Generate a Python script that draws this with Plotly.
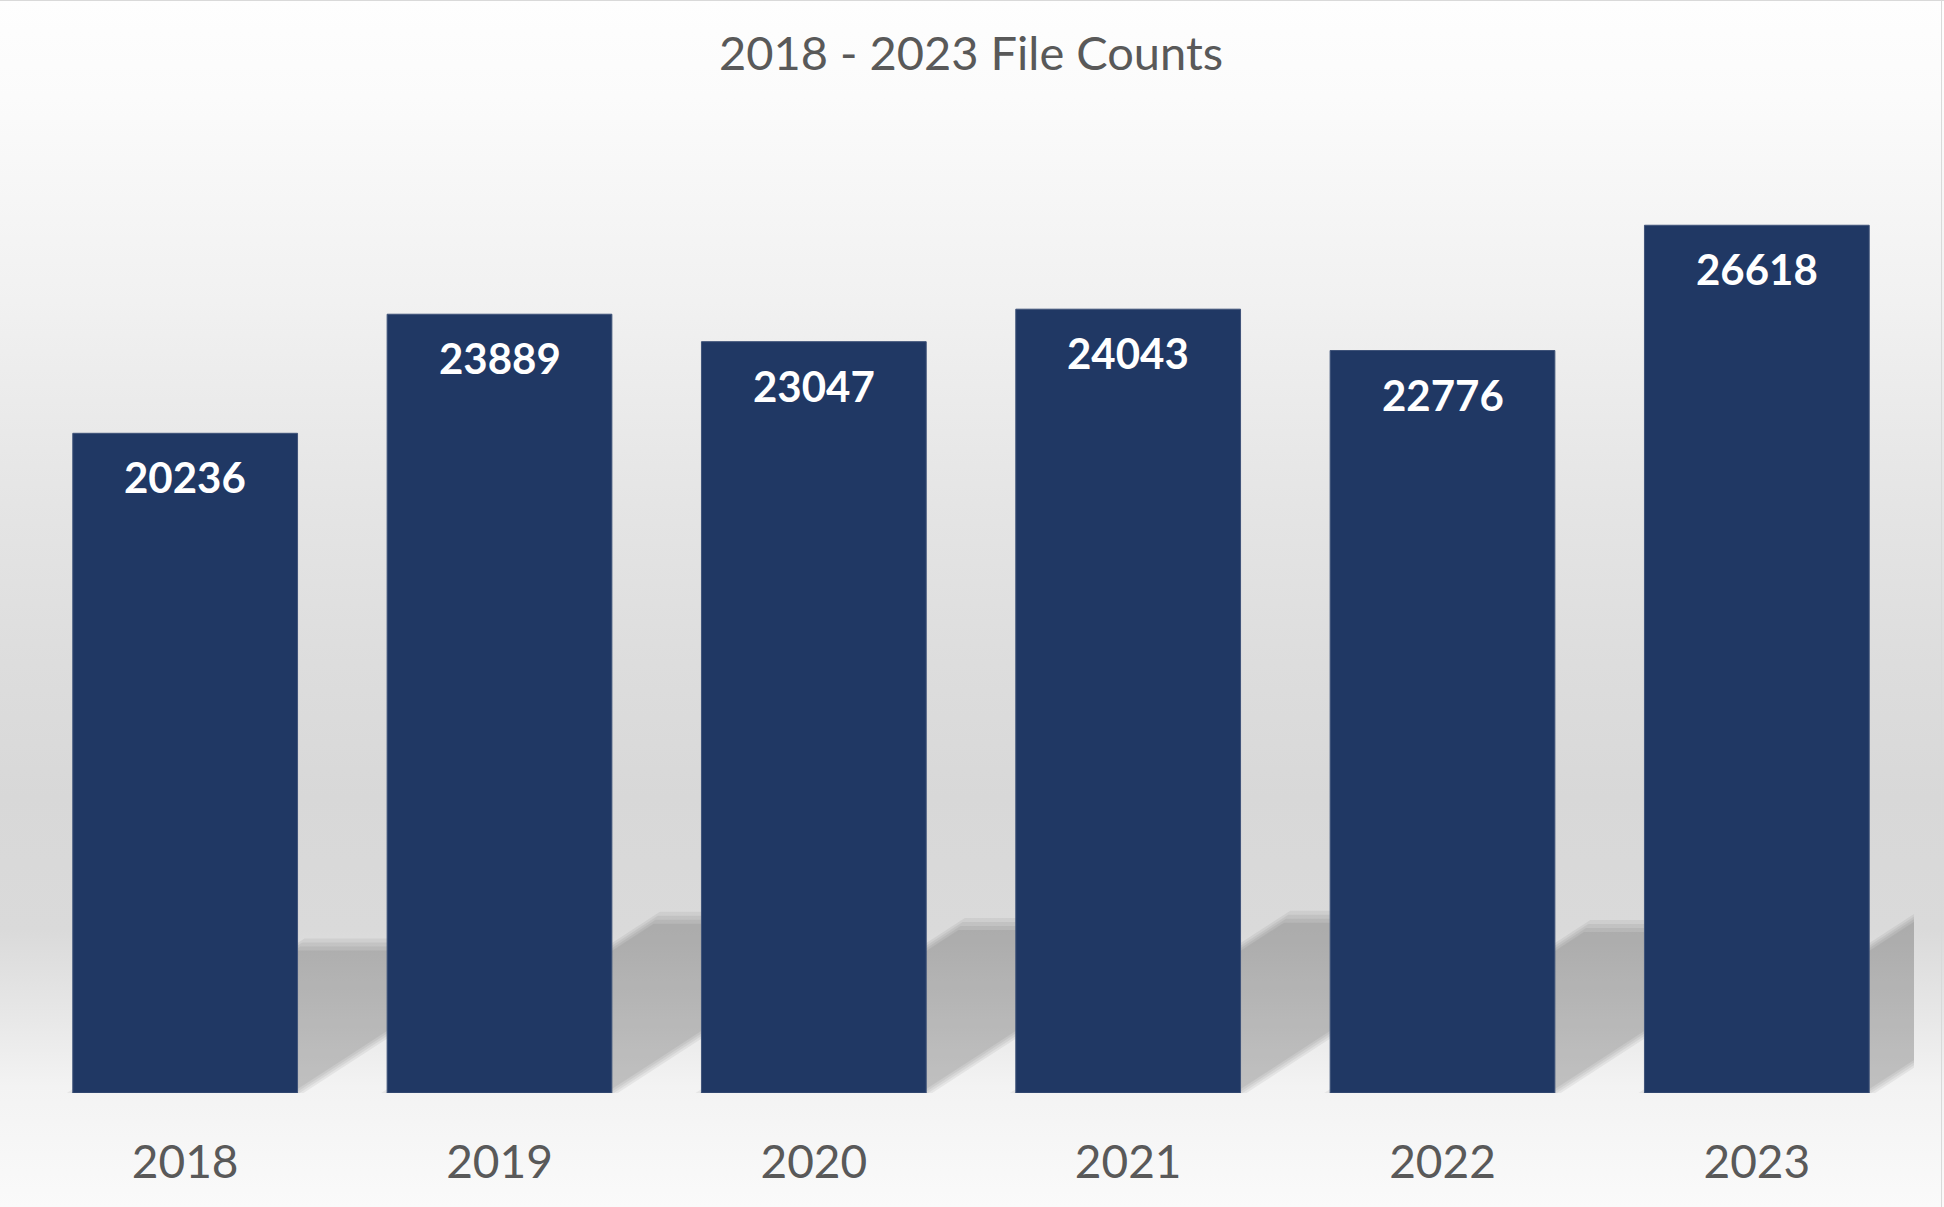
import base64
import plotly.graph_objects as go

# ---------------- data ----------------
years = ["2018", "2019", "2020", "2021", "2022", "2023"]
file_counts = [20236, 23889, 23047, 24043, 22776, 26618]
title_text = "2018 - 2023 File Counts"

# ---------------- layout constants ----------------
W, H = 1944, 1207
M_L, M_R, M_T, M_B = 28, 30, 115, 114
Y_MAX = 30000
BAR_FRAC = 0.715
BAR_COLOR = "#203864"
TEXT_GREY = "#595959"
FONT = "Lato, Carlito, 'Open Sans', sans-serif"

plot_w = W - M_L - M_R
plot_h = H - M_T - M_B
px_per_cat = plot_w / len(years)
px_per_val = plot_h / Y_MAX
x_idx = list(range(len(years)))

# ---------------- background gradient (svg data uri) ----------------
stops = [(0.0, "#fefefe"), (0.08, "#fbfbfb"), (0.25, "#f1f1f1"), (0.40, "#e6e6e6"),
         (0.55, "#dddddd"), (0.66, "#d8d8d8"), (0.77, "#dadada"), (0.84, "#e7e7e7"),
         (0.90, "#f3f3f3"), (1.0, "#fafafa")]
stop_xml = "".join(f'<stop offset="{o}" stop-color="{c}"/>' for o, c in stops)
svg = (f'<svg xmlns="http://www.w3.org/2000/svg" width="{W}" height="{H}" '
       f'viewBox="0 0 {W} {H}" preserveAspectRatio="none"><defs>'
       f'<linearGradient id="g" x1="0" y1="0" x2="0" y2="1">{stop_xml}</linearGradient>'
       f'</defs><rect x="0" y="0" width="{W}" height="{H}" fill="url(#g)"/></svg>')
svg_uri = "data:image/svg+xml;base64," + base64.b64encode(svg.encode()).decode()

fig = go.Figure()

fig.add_trace(go.Bar(
    x=x_idx, y=file_counts, width=BAR_FRAC,
    marker=dict(color=BAR_COLOR, line=dict(width=1, color="#3f5379")),
    hoverinfo="skip", showlegend=False,
))

# ---------------- perspective shadows (derived from the data) ----------------
SHADOW_RATIO = 0.225
SHADOW_SLOPE = 0.65
shapes = []
for i, v in zip(x_idx, file_counts):
    sh_px = SHADOW_RATIO * v * px_per_val
    left_px = (i - BAR_FRAC / 2) * px_per_cat
    right_px = (i + BAR_FRAC / 2) * px_per_cat
    for d in (-6, -2, 2, 6):
        t = sh_px - d
        lx0 = (left_px + d) / px_per_cat
        rx0 = (right_px - d) / px_per_cat
        lx1 = (left_px + d + t / SHADOW_SLOPE) / px_per_cat
        rx1 = (right_px - d + t / SHADOW_SLOPE) / px_per_cat
        ty = t / px_per_val
        path = f"M {lx0},0 L {rx0},0 L {rx1},{ty} L {lx1},{ty} Z"
        shapes.append(dict(type="path", path=path, xref="x", yref="y",
                           fillcolor="rgba(0,0,0,0.055)", line=dict(width=0),
                           layer="below"))

# chart border (top and right)
shapes.append(dict(type="line", xref="paper", yref="paper",
                   x0=-M_L / plot_w, x1=(plot_w + M_R) / plot_w,
                   y0=(plot_h + M_T - 0.5) / plot_h, y1=(plot_h + M_T - 0.5) / plot_h,
                   line=dict(color="#d9d9d9", width=1)))
shapes.append(dict(type="line", xref="paper", yref="paper",
                   x0=(plot_w + M_R - 2.5) / plot_w, x1=(plot_w + M_R - 2.5) / plot_w,
                   y0=-M_B / plot_h, y1=(plot_h + M_T) / plot_h,
                   line=dict(color="#d9d9d9", width=1)))

# ---------------- data labels ----------------
annotations = []
for i, v in zip(x_idx, file_counts):
    annotations.append(dict(
        x=i, y=v, xref="x", yref="y", text=f"<b>{v}</b>", showarrow=False,
        yanchor="middle", xanchor="center", yshift=-44,
        font=dict(family=FONT, size=42, color="white"),
    ))

fig.update_layout(
    width=W, height=H,
    margin=dict(l=M_L, r=M_R, t=M_T, b=M_B, pad=0),
    paper_bgcolor="white",
    plot_bgcolor="rgba(0,0,0,0)",
    title=dict(text=title_text, x=0.5, xref="paper", xanchor="center",
               y=1 - 54 / H, yref="container", yanchor="middle",
               font=dict(family=FONT, size=47, color=TEXT_GREY)),
    images=[dict(source=svg_uri, xref="paper", yref="paper",
                 x=-M_L / plot_w, y=1 + M_T / plot_h,
                 sizex=W / plot_w, sizey=H / plot_h,
                 xanchor="left", yanchor="top", sizing="stretch", layer="below")],
    shapes=shapes,
    annotations=annotations,
    xaxis=dict(range=[-0.5, len(years) - 0.5], tickmode="array",
               tickvals=x_idx, ticktext=years, showgrid=False, zeroline=False,
               showline=False, ticks="", ticklabelstandoff=38,
               tickfont=dict(family=FONT, size=46, color=TEXT_GREY), fixedrange=True),
    yaxis=dict(range=[0, Y_MAX], visible=False, showgrid=False, zeroline=False,
               fixedrange=True),
    showlegend=False,
)

fig.write_html("out.html", config={"displayModeBar": False},
               post_script="document.body.style.margin='0';document.body.style.overflow='hidden';")
